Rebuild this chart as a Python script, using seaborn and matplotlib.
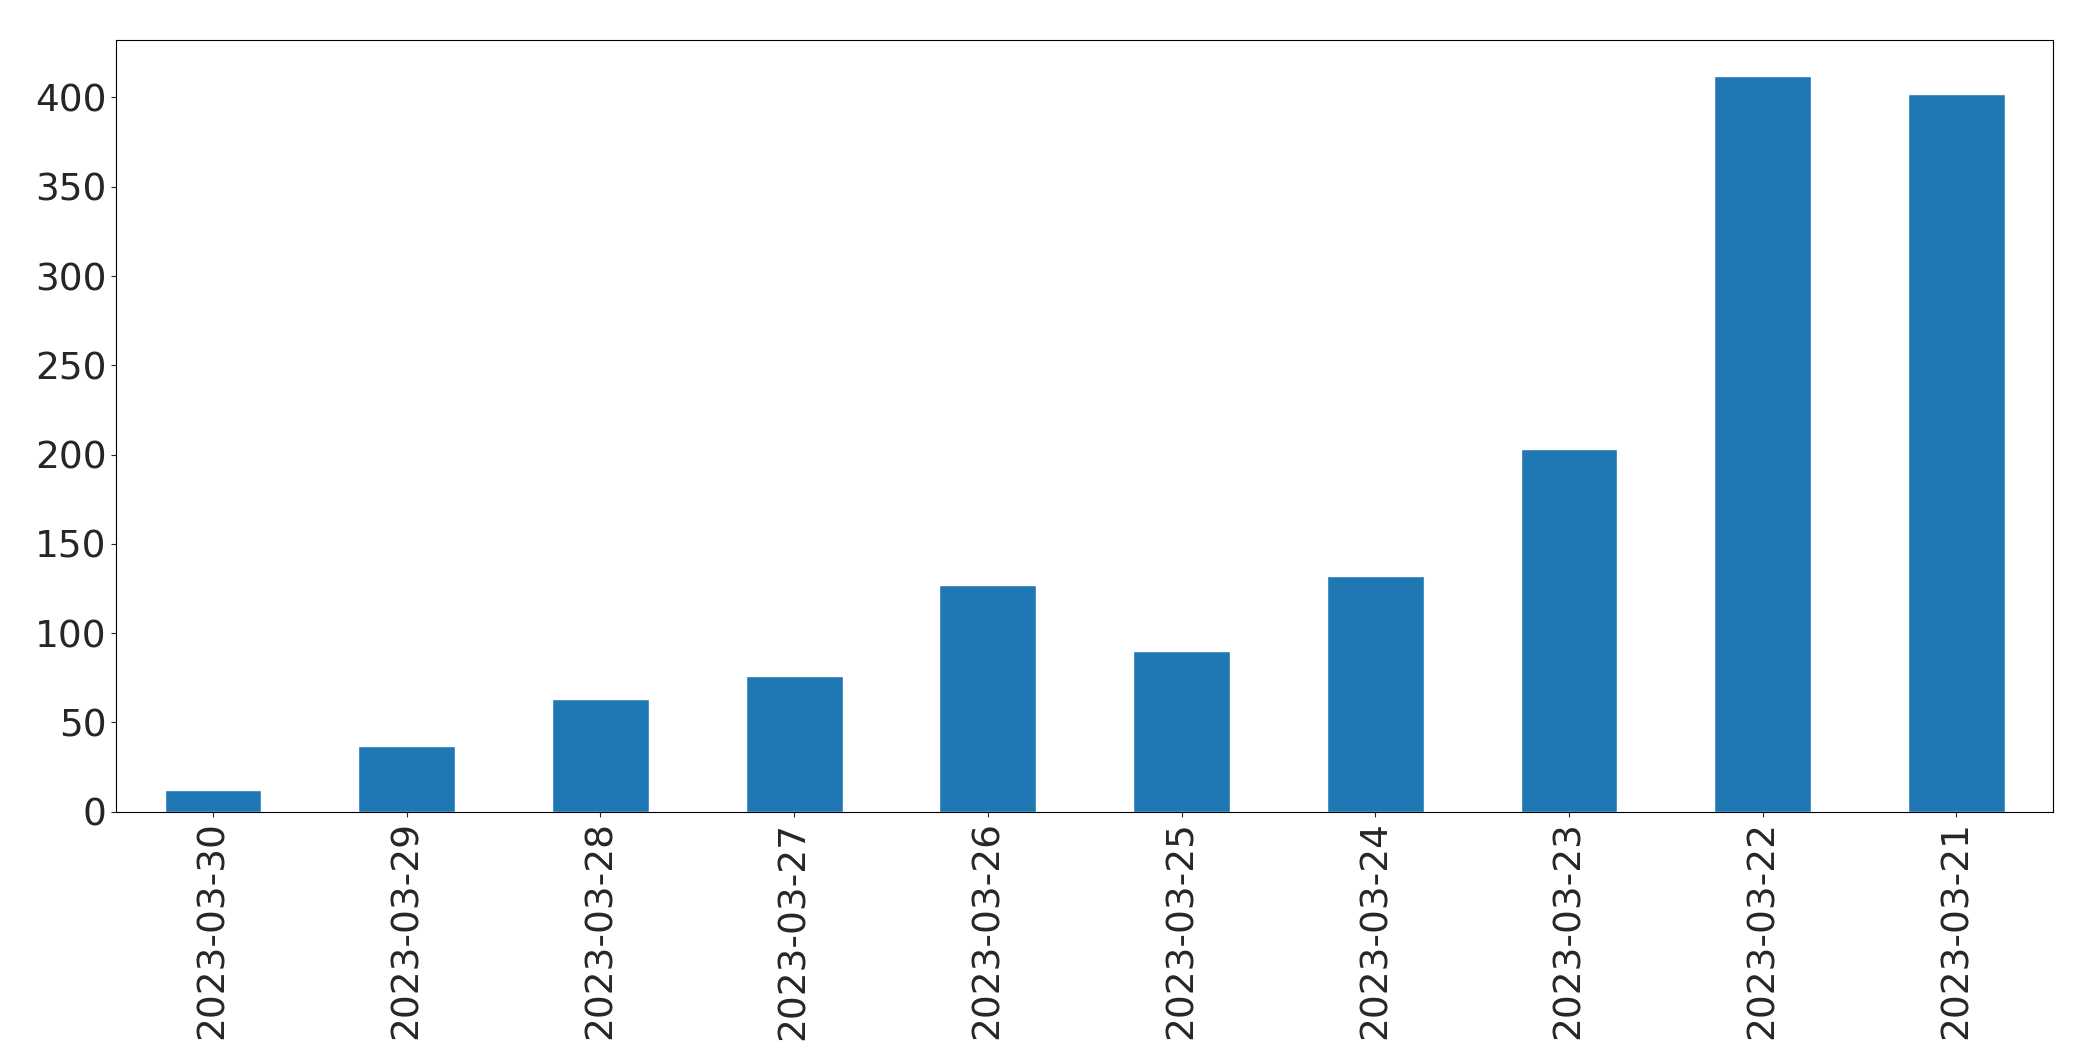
import matplotlib
matplotlib.use("Agg")
import matplotlib.pyplot as plt
import seaborn as sns
import pandas as pd

dates = ["2023-03-30","2023-03-29","2023-03-28","2023-03-27","2023-03-26",
         "2023-03-25","2023-03-24","2023-03-23","2023-03-22","2023-03-21"]
counts = [12, 37, 63, 76, 127, 90, 132, 203, 412, 402]

sns.set_style("ticks")
plt.rcParams['font.family'] = ['DejaVu Sans']
df = pd.DataFrame({"date": dates, "count": counts})
fig = plt.figure(figsize=(20.93, 10.61), dpi=100)
ax = fig.add_axes([0.0555, 0.235, 0.9255, 0.727])
sns.barplot(data=df, x="date", y="count", color="#1f77b4", saturation=1, width=0.5, ax=ax)
ax.set_xlabel("")
ax.set_ylabel("")
ax.tick_params(axis='both', labelsize=20*1.335/1.335*1.0 if False else 27)
ax.tick_params(axis='x', rotation=90)
ax.set_ylim(0, 432)
ax.set_xlim(-0.5, 9.5)
for s in ax.spines.values():
    s.set_visible(True)
    s.set_color("black")
fig.savefig("out.png", dpi=100)
